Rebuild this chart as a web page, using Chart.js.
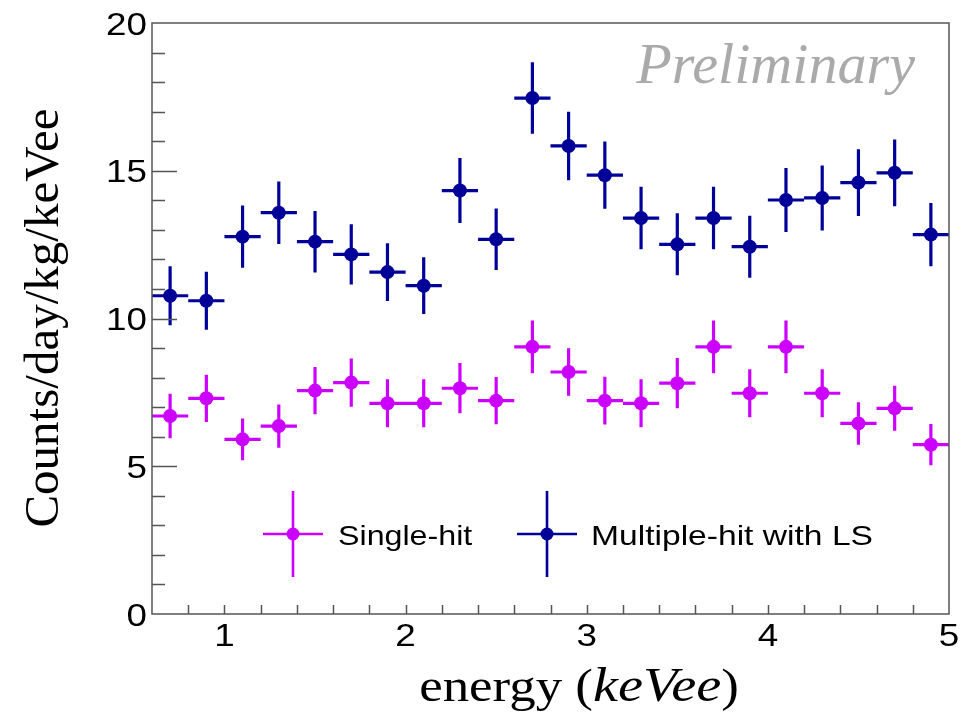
<!DOCTYPE html>
<html>
<head>
<meta charset="utf-8">
<title>Counts per energy bin</title>
<script src="https://cdn.jsdelivr.net/npm/chart.js@4"></script>
<style>
  html, body { margin: 0; padding: 0; background: #fff; }
  canvas { display: block; }
</style>
</head>
<body>
<canvas id="spectrum" width="967" height="714"></canvas>
<script>
// bin centres (keVee), bins are 0.2 wide
const energyBins = [0.7, 0.9, 1.1, 1.3, 1.5, 1.7, 1.9, 2.1, 2.3, 2.5, 2.7,
                    2.9, 3.1, 3.3, 3.5, 3.7, 3.9, 4.1, 4.3, 4.5, 4.7, 4.9];
const binHalfWidth = 0.1;

const singleHit    = [6.70, 7.30, 5.91, 6.36, 7.56, 7.83, 7.13, 7.13, 7.64, 7.22, 9.04,
                      8.19, 7.22, 7.13, 7.81, 9.04, 7.47, 9.04, 7.47, 6.45, 6.96, 5.73];
const singleHitErr = [0.75, 0.80, 0.71, 0.73, 0.80, 0.82, 0.81, 0.81, 0.85, 0.80, 0.89,
                      0.80, 0.81, 0.81, 0.85, 0.89, 0.81, 0.89, 0.81, 0.72, 0.76, 0.70];

const multiHit     = [10.77, 10.60, 12.77, 13.58, 12.60, 12.17, 11.57, 11.11, 14.33, 12.68, 17.46,
                      15.84, 14.85, 13.40, 12.51, 13.40, 12.43, 14.01, 14.08, 14.60, 14.93, 12.84];
const multiHitErr  = [1.00, 0.98, 1.05, 1.06, 1.04, 1.02, 0.98, 0.96, 1.10, 1.04, 1.21,
                      1.16, 1.14, 1.06, 1.05, 1.06, 1.05, 1.08, 1.10, 1.13, 1.13, 1.07];

const seriesNames = ['Single-hit', 'Multiple-hit with LS'];

// axis range and tick labels
const xRange = [0.6, 5];
const yRange = [0, 20];
const xTickLabels = [1, 2, 3, 4, 5];
const yTickLabels = [0, 5, 10, 15, 20];

const MAGENTA = '#cc00ff';
const NAVY = '#000099';
const AXIS = '#555555';
const SANS = '"Liberation Sans", Arial, sans-serif';
const SERIF = '"Liberation Serif", "Times New Roman", serif';
const STRETCH = 1.15;

function toPoints(values) {
    return energyBins.map((x, i) => ({ x: x, y: values[i] }));
}

// text drawn a little wider than the font's natural width
function wideText(ctx, text, x, y, font, align, sx) {
    ctx.save();
    ctx.font = font;
    ctx.translate(x, y);
    ctx.scale(sx, 1);
    ctx.textAlign = align;
    ctx.textBaseline = 'alphabetic';
    ctx.fillText(text, 0, 0);
    ctx.restore();
}

function crossAt(ctx, cx, cy, halfW, halfH, color, lw) {
    ctx.strokeStyle = color;
    ctx.lineWidth = lw;
    ctx.beginPath();
    ctx.moveTo(cx - halfW, cy);
    ctx.lineTo(cx + halfW, cy);
    ctx.moveTo(cx, cy - halfH);
    ctx.lineTo(cx, cy + halfH);
    ctx.stroke();
}

const errorBars = {
    id: 'errorBars',
    beforeDatasetsDraw(chart) {
        const ctx = chart.ctx;
        const xs = chart.scales.x, ys = chart.scales.y;
        ctx.save();
        chart.data.datasets.forEach(ds => {
            ctx.strokeStyle = ds.backgroundColor;
            ctx.lineWidth = 3.2;
            ctx.beginPath();
            ds.data.forEach((p, i) => {
                const err = ds.errors[i];
                const py = ys.getPixelForValue(p.y);
                const px = xs.getPixelForValue(p.x);
                ctx.moveTo(xs.getPixelForValue(p.x - binHalfWidth), py);
                ctx.lineTo(xs.getPixelForValue(p.x + binHalfWidth), py);
                ctx.moveTo(px, ys.getPixelForValue(p.y + err));
                ctx.lineTo(px, ys.getPixelForValue(p.y - err));
            });
            ctx.stroke();
        });
        ctx.restore();
    }
};

const rootFrame = {
    id: 'rootFrame',
    afterDraw(chart) {
        const ctx = chart.ctx;
        const a = chart.chartArea;
        const xs = chart.scales.x, ys = chart.scales.y;
        ctx.save();

        // frame
        ctx.strokeStyle = AXIS;
        ctx.lineWidth = 1.5;
        ctx.strokeRect(a.left, a.top, a.right - a.left, a.bottom - a.top);

        // inward ticks
        ctx.beginPath();
        for (let v = 1; v < yRange[1]; v++) {
            const py = Math.round(ys.getPixelForValue(v)) + 0.5;
            const len = v % 5 === 0 ? 25 : 13;
            ctx.moveTo(a.left, py);
            ctx.lineTo(a.left + len, py);
        }
        for (let k = 4; k < 25; k++) {
            const v = k * 0.2;
            const px = Math.round(xs.getPixelForValue(v)) + 0.5;
            ctx.moveTo(px, a.bottom);
            ctx.lineTo(px, a.bottom - 9);
        }
        ctx.stroke();

        // tick labels
        ctx.fillStyle = '#000';
        const tickFont = '32px ' + SANS;
        yTickLabels.forEach(v => {
            wideText(ctx, String(v), a.left - 5, ys.getPixelForValue(v) + 11.5, tickFont, 'right', STRETCH);
        });
        xTickLabels.forEach(v => {
            wideText(ctx, String(v), xs.getPixelForValue(v), a.bottom + 32, tickFont, 'center', STRETCH);
        });

        // y title
        ctx.save();
        ctx.translate(58, 318);
        ctx.rotate(-Math.PI / 2);
        ctx.font = '49px ' + SERIF;
        ctx.textAlign = 'center';
        ctx.textBaseline = 'alphabetic';
        ctx.fillText('Counts/day/kg/keVee', 0, 0);
        ctx.restore();

        // x title, italic unit
        const parts = [
            { t: 'energy (', f: '46px ' + SERIF },
            { t: 'keVee', f: 'italic 49px ' + SERIF },
            { t: ')', f: '46px ' + SERIF }
        ];
        const sxTitle = 1.15;
        let total = 0;
        parts.forEach(p => { ctx.font = p.f; p.w = ctx.measureText(p.t).width * sxTitle; total += p.w; });
        let cx = 579 - total / 2;
        parts.forEach(p => { wideText(ctx, p.t, cx, 701, p.f, 'left', sxTitle); cx += p.w; });

        // legend
        const legendRows = [
            { name: seriesNames[0], color: MAGENTA, x: 293, tx: 338, sx: STRETCH },
            { name: seriesNames[1], color: NAVY, x: 547, tx: 591, sx: 1.2 }
        ];
        legendRows.forEach(r => {
            crossAt(ctx, r.x, 534, 30, 43, r.color, 2.6);
            ctx.fillStyle = r.color;
            ctx.beginPath();
            ctx.arc(r.x, 534, 6.5, 0, Math.PI * 2);
            ctx.fill();
            ctx.fillStyle = '#000';
            wideText(ctx, r.name, r.tx, 545, '28px ' + SANS, 'left', r.sx);
        });

        // watermark
        ctx.fillStyle = '#aaaaaa';
        wideText(ctx, 'Preliminary', 915, 83, 'italic 57px ' + SERIF, 'right', 1.02);

        ctx.restore();
    }
};

new Chart(document.getElementById('spectrum'), {
    type: 'scatter',
    data: {
        datasets: [
            {
                label: seriesNames[0],
                data: toPoints(singleHit),
                errors: singleHitErr,
                backgroundColor: MAGENTA,
                borderWidth: 0,
                pointRadius: 7,
                pointHoverRadius: 7
            },
            {
                label: seriesNames[1],
                data: toPoints(multiHit),
                errors: multiHitErr,
                backgroundColor: NAVY,
                borderWidth: 0,
                pointRadius: 7,
                pointHoverRadius: 7
            }
        ]
    },
    options: {
        responsive: false,
        animation: false,
        events: [],
        layout: { padding: { left: 152, right: 18, top: 23, bottom: 100 } },
        plugins: { legend: { display: false }, tooltip: { enabled: false } },
        scales: {
            x: { type: 'linear', min: xRange[0], max: xRange[1], display: false },
            y: { type: 'linear', min: yRange[0], max: yRange[1], display: false }
        }
    },
    plugins: [errorBars, rootFrame]
});
</script>
</body>
</html>
